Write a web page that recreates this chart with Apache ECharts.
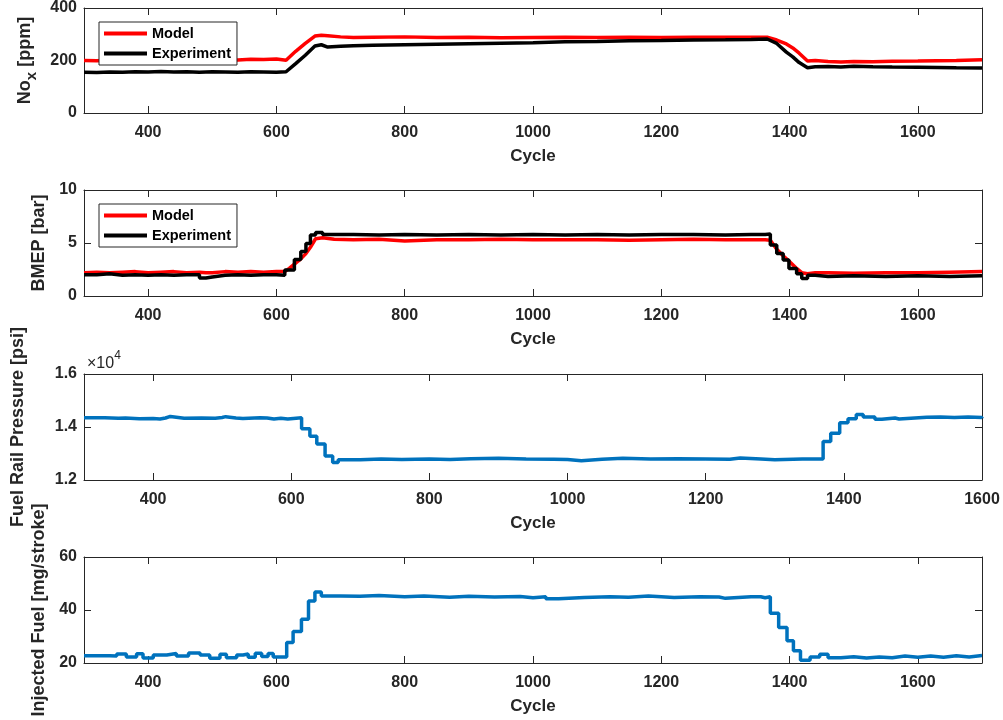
<!DOCTYPE html>
<html>
<head>
<meta charset="utf-8">
<script src="https://cdn.jsdelivr.net/npm/echarts@6/dist/echarts.min.js"></script>
<style>
  html, body { margin: 0; padding: 0; background: #fff; }
  #chart { width: 1003px; height: 720px; }
</style>
</head>
<body>
<div id="chart"></div>
<script>
// NOx [ppm]
const noxCycle = [300, 320, 340, 360, 380, 400, 420, 440, 460, 480, 500, 520, 540, 560, 580, 600, 615, 630, 645, 660,
  670, 680, 700, 720, 750, 800, 850, 900, 950, 1000, 1050, 1100, 1150, 1200, 1250, 1300, 1340, 1365, 1380, 1395,
  1405, 1415, 1428, 1440, 1460, 1480, 1500, 1530, 1560, 1600, 1630, 1660, 1700];
const noxModel = [200, 199, 201, 200, 202, 201, 203, 202, 201, 203, 204, 203, 202, 205, 204, 206, 201, 235, 265, 293,
  296, 294, 290, 288, 289, 290, 288, 289, 287, 288, 289, 288, 289, 288, 289, 289, 289, 289, 278, 263,
  248, 228, 198, 200, 196, 194, 196, 195, 197, 198, 199, 200, 203];
const noxExp = [155, 154, 156, 155, 157, 156, 158, 156, 157, 155, 157, 156, 155, 157, 156, 155, 157, 188, 220, 255,
  260, 251, 254, 256, 258, 260, 262, 264, 266, 268, 271, 272, 275, 276, 278, 279, 280, 282, 265, 232,
  214, 192, 172, 176, 177, 175, 178, 176, 175, 174, 173, 172, 171];

// BMEP [bar]
const bmepCycle = [300, 320, 340, 360, 380, 400, 420, 440, 460, 480, 490, 500, 520, 540, 560, 580, 600, 613, 620, 628,
  638, 646, 653, 661, 672, 690, 720, 760, 800, 850, 900, 950, 1000, 1050, 1100, 1150, 1200, 1250, 1300, 1340,
  1362, 1370, 1380, 1390, 1399, 1411, 1419, 1428, 1440, 1460, 1500, 1550, 1600, 1650, 1700];
const bmepModel = [2.2, 2.25, 2.2, 2.25, 2.3, 2.2, 2.25, 2.3, 2.2, 2.25, 2.2, 2.2, 2.3, 2.25, 2.3, 2.25, 2.3, 2.3, 2.6, 3.0,
  3.5, 4.0, 4.6, 5.4, 5.5, 5.35, 5.3, 5.35, 5.2, 5.3, 5.3, 5.35, 5.3, 5.3, 5.3, 5.25, 5.3, 5.35, 5.3, 5.3,
  5.3, 5.25, 4.4, 3.8, 3.3, 2.6, 2.2, 2.1, 2.2, 2.2, 2.15, 2.2, 2.2, 2.25, 2.3];
const bmepExp = [2.0, 2.1, 1.95, 2.0, 1.95, 2.0, 1.95, 2.0, 2.0, 1.7, 1.8, 1.95, 2.0, 1.95, 2.0, 2.0, 1.95, 2.45, 2.45, 3.45,
  4.2, 4.95, 5.75, 6.0, 5.8, 5.8, 5.75, 5.8, 5.75, 5.8, 5.75, 5.8, 5.75, 5.8, 5.75, 5.8, 5.8, 5.75, 5.8, 5.8,
  5.85, 4.8, 4.0, 3.4, 2.6, 2.1, 1.65, 1.95, 1.85, 1.9, 1.85, 1.9, 1.85, 1.9, 1.85];

// Fuel rail pressure [psi]
const railCycle = [300, 330, 350, 360, 380, 400, 410, 418, 425, 445, 470, 490, 500, 505, 520, 530, 555, 565, 575, 585,
  595, 615, 627, 637, 649, 660, 668, 700, 730, 760, 800, 830, 860, 900, 940, 980, 1000, 1020, 1050, 1080,
  1120, 1160, 1200, 1235, 1250, 1280, 1300, 1340, 1370, 1381, 1394, 1406, 1418, 1428, 1445, 1455, 1474, 1480, 1520, 1540,
  1560, 1580, 1600];
const railPressure = [14350, 14330, 14340, 14310, 14320, 14300, 14340, 14400, 14330, 14340, 14330, 14360, 14390, 14340, 14320, 14350, 14340, 14300, 14330, 14300,
  14350, 13930, 13650, 13360, 12910, 12660, 12760, 12790, 12770, 12790, 12770, 12800, 12820, 12790, 12780, 12770, 12730, 12780, 12820, 12790,
  12800, 12790, 12780, 12830, 12790, 12760, 12790, 12790, 13450, 13760, 14160, 14310, 14470, 14380, 14290, 14340, 14300, 14370, 14380, 14360,
  14380, 14360, 14330];

// Injected fuel [mg/stroke]
const injCycle = [300, 340, 351, 366, 382, 392, 408, 429, 444, 463, 481, 496, 512, 522, 538, 548, 556, 567, 577, 587,
  595, 616, 626, 639, 650, 660, 670, 700, 730, 760, 800, 830, 870, 900, 940, 980, 1000, 1020, 1040, 1080,
  1120, 1149, 1180, 1220, 1260, 1290, 1300, 1340, 1355, 1362, 1370, 1383, 1396, 1406, 1417, 1432, 1447, 1460, 1480, 1500,
  1520, 1540, 1560, 1580, 1600, 1620, 1640, 1660, 1680, 1700];
const injFuel = [22.7, 22.6, 23.4, 22.3, 23.5, 21.9, 23.0, 23.6, 22.6, 23.8, 23.0, 21.8, 23.3, 22.0, 23.0, 23.4, 22.2, 23.7, 22.5, 23.6,
  22.3, 27.7, 31.9, 36.5, 43.4, 46.8, 45.3, 45.2, 45.5, 45.0, 45.3, 44.8, 45.2, 44.9, 45.1, 44.6, 45.0, 44.2, 44.7, 45.0,
  44.8, 45.3, 44.7, 45.0, 44.9, 44.4, 45.0, 45.0, 44.6, 45.0, 38.8, 33.4, 28.4, 24.6, 21.0, 22.3, 23.3, 22.0, 22.4, 21.9,
  22.3, 22.0, 22.6, 22.2, 22.6, 22.2, 22.7, 22.3, 22.8, 23.0];

const INK = '#262626';
const FONT = 'Liberation Sans, Arial, Helvetica, sans-serif';
const RED = '#ff0000';
const BLACK = '#000000';
const BLUE = '#0072bd';
const GRID_TOPS = [7, 190, 374, 557];

const zip = (xs, ys) => xs.map((x, i) => [x, ys[i]]);

const tickStyle = { show: true, inside: true, length: 7, lineStyle: { color: INK, width: 1 } };
const lineStyle = { show: true, onZero: false, lineStyle: { color: INK, width: 1 } };

function xAxes(grid, max) {
  const base = {
    type: 'value', gridIndex: grid, min: 300, max: max, splitNumber: 7,
    axisLine: lineStyle, axisTick: tickStyle, splitLine: { show: false },
  };
  return [
    Object.assign({}, base, {
      position: 'bottom',
      name: 'Cycle', nameLocation: 'middle', nameGap: 35,
      nameTextStyle: { fontFamily: FONT, fontSize: 17, fontWeight: 'bold', color: INK },
      axisLabel: {
        margin: 12, fontFamily: FONT, fontSize: 16, fontWeight: 'bold', color: INK,
        formatter: (v) => (v % 200 === 0 ? String(v) : ''),
      },
    }),
    Object.assign({}, base, { position: 'top', axisLabel: { show: false } }),
  ];
}

function yAxes(grid, min, max, interval, name, nameGap, labelFmt, rich) {
  const base = {
    type: 'value', gridIndex: grid, min: min, max: max, interval: interval,
    axisLine: lineStyle, axisTick: tickStyle, splitLine: { show: false },
  };
  const nameStyle = { fontFamily: FONT, fontSize: 18, fontWeight: 'bold', color: INK };
  if (rich) nameStyle.rich = rich;
  return [
    Object.assign({}, base, {
      position: 'left',
      name: name, nameLocation: 'middle', nameRotate: 90, nameGap: nameGap,
      nameTextStyle: nameStyle,
      axisLabel: {
        margin: 7, fontFamily: FONT, fontSize: 16, fontWeight: 'bold', color: INK,
        formatter: labelFmt || ((v) => String(v)),
      },
    }),
    Object.assign({}, base, { position: 'right', axisLabel: { show: false } }),
  ];
}

const noxRich = {
  m: { fontFamily: FONT, fontSize: 18, fontWeight: 'bold', color: INK, lineHeight: 19, verticalAlign: 'top' },
  s: { fontFamily: FONT, fontSize: 15, fontWeight: 'bold', color: INK, lineHeight: 15, padding: [8, 0, 0, 0], verticalAlign: 'top' },
};

function legendAt(top) {
  return {
    orient: 'vertical', left: 99, top: top,
    data: ['Model', 'Experiment'],
    icon: 'rect', itemWidth: 43, itemHeight: 4, itemGap: 3,
    padding: [3, 6, 3, 5],
    backgroundColor: '#ffffff', borderColor: INK, borderWidth: 1,
    textStyle: { fontFamily: FONT, fontSize: 14.5, fontWeight: 'bold', color: '#000', lineHeight: 17 },
    selectedMode: false,
  };
}

function lineSeries(name, axis, data, color, step) {
  return {
    name: name, type: 'line', xAxisIndex: axis, yAxisIndex: axis,
    data: data, step: step || false, symbol: 'none', showSymbol: false,
    lineStyle: { color: color, width: 3.5 }, itemStyle: { color: color },
    clip: true, silent: true,
  };
}

const chart = echarts.init(document.getElementById('chart'), null, { renderer: 'canvas' });

const option = {
  animation: false,
  backgroundColor: '#ffffff',
  grid: GRID_TOPS.map((t) => ({ left: 84, width: 898, top: t, height: 106, containLabel: false })),
  xAxis: [].concat(xAxes(0, 1700), xAxes(1, 1700), xAxes(2, 1600), xAxes(3, 1700)),
  yAxis: [].concat(
    yAxes(0, 0, 400, 200, '{m|No}{s|x}{m| [ppm]}', 41, null, noxRich),
    yAxes(1, 0, 10, 5, 'BMEP [bar]', 27),
    yAxes(2, 12000, 16000, 2000, 'Fuel Rail Pressure [psi]', 57, (v) => (v / 10000).toFixed(1)),
    yAxes(3, 20, 60, 20, 'Injected Fuel [mg/stroke]', 29)
  ),
  legend: [legendAt(22), legendAt(204)],
  graphic: [{
    type: 'text', left: 87, top: 350,
    style: {
      text: '{a|×10}{b|4}',
      rich: {
        a: { fontFamily: FONT, fontSize: 16, fill: INK, lineHeight: 18, verticalAlign: 'top', padding: [6, 0, 0, 0] },
        b: { fontFamily: FONT, fontSize: 12, fill: INK, lineHeight: 13, verticalAlign: 'top' },
      },
    },
  }],
  series: [
    // main axes are the even indices (odd ones are the mirrored box axes)
    lineSeries('Model', 0, zip(noxCycle, noxModel), RED),
    lineSeries('Experiment', 0, zip(noxCycle, noxExp), BLACK),
    lineSeries('Model', 2, zip(bmepCycle, bmepModel), RED),
    lineSeries('Experiment', 2, zip(bmepCycle, bmepExp), BLACK, 'end'),
    lineSeries('Fuel Rail Pressure', 4, zip(railCycle, railPressure), BLUE, 'end'),
    lineSeries('Injected Fuel', 6, zip(injCycle, injFuel), BLUE, 'end'),
  ],
};

chart.setOption(option);
</script>
</body>
</html>
